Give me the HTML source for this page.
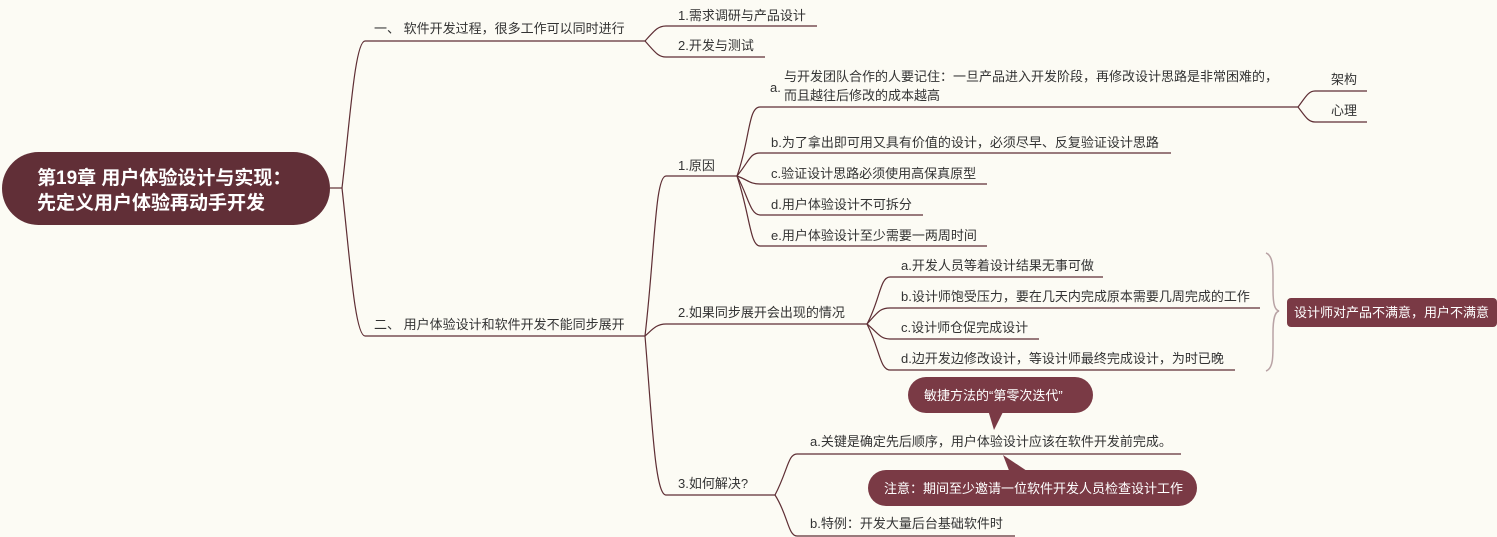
<!DOCTYPE html>
<html><head><meta charset="utf-8"><style>
html,body{margin:0;padding:0;background:#fcfbf4;}
svg{display:block}
text{font-family:"Liberation Sans","Noto Sans CJK SC",sans-serif;font-size:13px;fill:#333;}
.w{fill:#fff}
</style></head><body>
<svg width="1497" height="537" viewBox="0 0 1497 537" xmlns="http://www.w3.org/2000/svg">
<rect width="1497" height="537" fill="#fcfbf4"/>
<g fill="none" stroke="#5e2e34" stroke-width="1.2">
<!-- root -->
<path d="M330,188 H342"/>
<path d="M342,188 C350,120 355,41 365,41 H645"/>
<path d="M342,188 C350,260 355,336 365,336 H645"/>
<!-- branch1 -->
<path d="M645,41 C655,30 658,26 666,26 H817"/>
<path d="M645,41 C655,52 658,57 666,57 H765"/>
<!-- branch2 -->
<path d="M645,336 C655,250 655,176 666,176 H737"/>
<path d="M645,336 C652,330 656,324 666,324 H867"/>
<path d="M645,336 C652,420 655,495 666,495 H775"/>
<!-- reasons -->
<path d="M737,176 C750,140 748,107 760,107 H1298"/>
<path d="M737,176 C750,160 750,153 760,153 H1171"/>
<path d="M737,176 C748,180 750,184 760,184 H987"/>
<path d="M737,176 C748,195 750,215 760,215 H923"/>
<path d="M737,176 C750,215 750,246 760,246 H987"/>
<path d="M1298,107 C1305,98 1308,91 1315,91 H1367"/>
<path d="M1298,107 C1305,116 1308,122 1315,122 H1367"/>
<!-- situations -->
<path d="M867,324 C880,300 880,277 890,277 H1103"/>
<path d="M867,324 C878,312 880,308 890,308 H1260"/>
<path d="M867,324 C878,333 880,339 890,339 H1039"/>
<path d="M867,324 C880,350 880,370 890,370 H1235"/>
<!-- solve -->
<path d="M775,495 C788,470 788,454 797,454 H1181"/>
<path d="M775,495 C788,515 788,536 797,536 H1015"/>
</g>
<!-- brace -->
<path d="M1266,253 C1274,256 1273,270 1273,290 C1273,305 1275,310 1279,311 C1275,312 1273,318 1273,333 C1273,355 1274,368 1266,371" fill="none" stroke="#b9a3a5" stroke-width="1.5"/>
<!-- root node -->
<rect x="2" y="152" width="328" height="73" rx="36.5" fill="#612f37"/>
<text x="37" y="184" class="w" style="font-size:19px;font-weight:bold">第19章 用户体验设计与实现：</text>
<text x="37" y="209" class="w" style="font-size:19px;font-weight:bold">先定义用户体验再动手开发</text>
<text x="374" y="33">一、 软件开发过程，很多工作可以同时进行</text>
<text x="374" y="329">二、 用户体验设计和软件开发不能同步展开</text>
<text x="678" y="20">1.需求调研与产品设计</text>
<text x="678" y="50">2.开发与测试</text>
<text x="678" y="170">1.原因</text>
<text x="678" y="317">2.如果同步展开会出现的情况</text>
<text x="678" y="488">3.如何解决?</text>
<text x="770" y="92">a.</text>
<text x="784" y="81">与开发团队合作的人要记住：一旦产品进入开发阶段，再修改设计思路是非常困难的，</text>
<text x="784" y="100">而且越往后修改的成本越高</text>
<text x="771" y="147">b.为了拿出即可用又具有价值的设计，必须尽早、反复验证设计思路</text>
<text x="771" y="178">c.验证设计思路必须使用高保真原型</text>
<text x="771" y="209">d.用户体验设计不可拆分</text>
<text x="771" y="240">e.用户体验设计至少需要一两周时间</text>
<text x="1331" y="84">架构</text>
<text x="1331" y="115">心理</text>
<text x="901" y="270">a.开发人员等着设计结果无事可做</text>
<text x="901" y="301">b.设计师饱受压力，要在几天内完成原本需要几周完成的工作</text>
<text x="901" y="332">c.设计师仓促完成设计</text>
<text x="901" y="363">d.边开发边修改设计，等设计师最终完成设计，为时已晚</text>
<rect x="1287" y="298" width="210" height="29" rx="4" fill="#7a3a45"/>
<text x="1294" y="317" class="w">设计师对产品不满意，用户不满意</text>
<text x="810" y="446">a.关键是确定先后顺序，用户体验设计应该在软件开发前完成。</text>
<text x="810" y="528">b.特例：开发大量后台基础软件时</text>
<!-- callouts -->
<path d="M988,410 L994,430 L1004,410 Z" fill="#7a3a45"/>
<rect x="908" y="377" width="185" height="36" rx="18" fill="#7a3a45"/>
<text x="924" y="400" class="w">敏捷方法的“第零次迭代”</text>
<path d="M1003,455 L1010,473 L1030,473 Z" fill="#7a3a45"/>
<rect x="868" y="470" width="329" height="36" rx="18" fill="#7a3a45"/>
<text x="884" y="493" class="w">注意：期间至少邀请一位软件开发人员检查设计工作</text>
</svg>
</body></html>
